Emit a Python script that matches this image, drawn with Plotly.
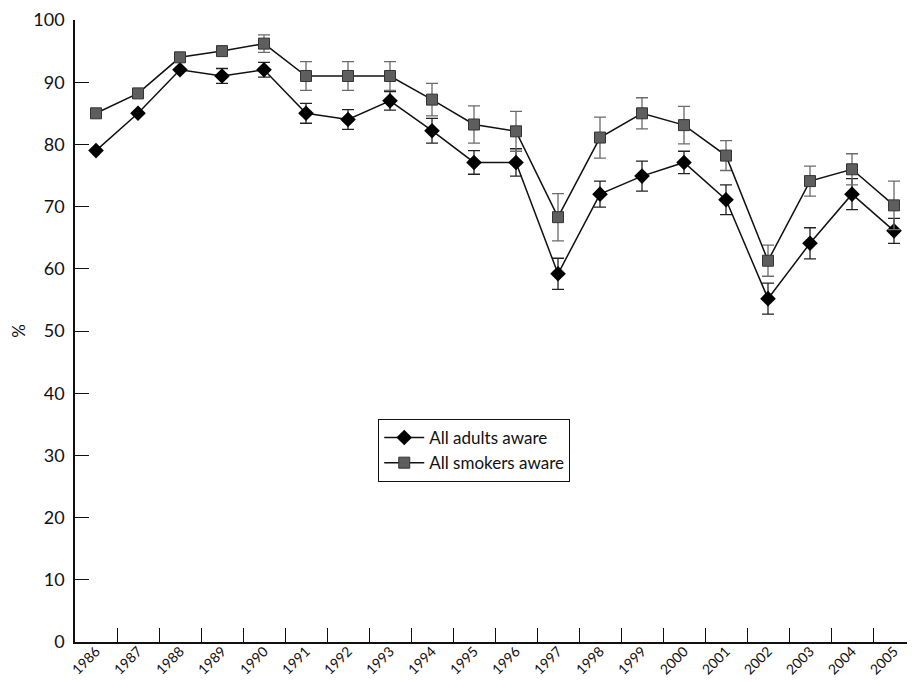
import plotly.graph_objects as go

years = [str(y) for y in range(1986, 2006)]
adults = [79, 85, 92, 91, 92, 85, 84, 87, 82.2, 77.1, 77.1, 59.2, 72, 74.9, 77.1, 71.1, 55.2, 64.1, 72, 66.1]
adults_err = [None, None, None, 1.2, 1.2, 1.6, 1.6, 1.5, 2.0, 1.9, 2.2, 2.5, 2.1, 2.4, 1.8, 2.4, 2.5, 2.5, 2.5, 2.0]
smokers = [85, 88.2, 94, 95, 96.2, 91, 91, 91, 87.2, 83.2, 82.1, 68.3, 81.1, 85, 83.1, 78.2, 61.3, 74.1, 76, 70.2]
smokers_err = [None, None, None, None, 1.4, 2.3, 2.3, 2.3, 2.6, 3.0, 3.2, 3.8, 3.3, 2.5, 3.0, 2.4, 2.5, 2.4, 2.5, 3.9]

FONT = "Lato, 'DejaVu Sans', sans-serif"

fig = go.Figure()
fig.add_trace(go.Scatter(
    x=years, y=adults, name="All adults aware", mode="lines+markers",
    line=dict(color="#111111", width=1.5),
    marker=dict(symbol="diamond", size=12, color="#000000"),
    error_y=dict(type="data", array=adults_err, visible=True, color="#222222", thickness=1.3, width=6),
))
fig.add_trace(go.Scatter(
    x=years, y=smokers, name="All smokers aware", mode="lines+markers",
    line=dict(color="#111111", width=1.5),
    marker=dict(symbol="square", size=11, color="#5e5e5e", line=dict(color="#333333", width=1)),
    error_y=dict(type="data", array=smokers_err, visible=True, color="#6b6b6b", thickness=1.3, width=6),
))

fig.update_layout(
    width=907, height=674,
    margin=dict(l=67, r=0, t=12, b=40),
    paper_bgcolor="white", plot_bgcolor="white",
    font=dict(family=FONT, size=15, color="#111111"),
    showlegend=True,
    legend=dict(
        x=0.361, y=0.3585, xanchor="left", yanchor="top",
        bordercolor="#111111", borderwidth=1, bgcolor="white",
        font=dict(size=17), tracegroupgap=0, itemwidth=40,
    ),
)
fig.update_xaxes(
    type="category", range=[-0.5, 19.5], tickson="boundaries",
    showline=True, linecolor="#111111", linewidth=1.5,
    ticks="inside", ticklen=14, tickcolor="#111111", tickwidth=1,
    tickangle=-45, showgrid=False, zeroline=False, automargin=False,
    tickfont=dict(size=14), ticklabelstandoff=-6,
)
fig.update_yaxes(
    range=[0, 100], tickvals=list(range(0, 101, 10)),
    showline=True, linecolor="#111111", linewidth=1.5,
    ticks="inside", ticklen=14, tickcolor="#111111", tickwidth=1,
    showgrid=False, zeroline=False, automargin=False,
    title=dict(text="%", standoff=35, font=dict(size=17)),
    tickfont=dict(size=18), ticklabelstandoff=5,
)

fig.write_html("out.html")
